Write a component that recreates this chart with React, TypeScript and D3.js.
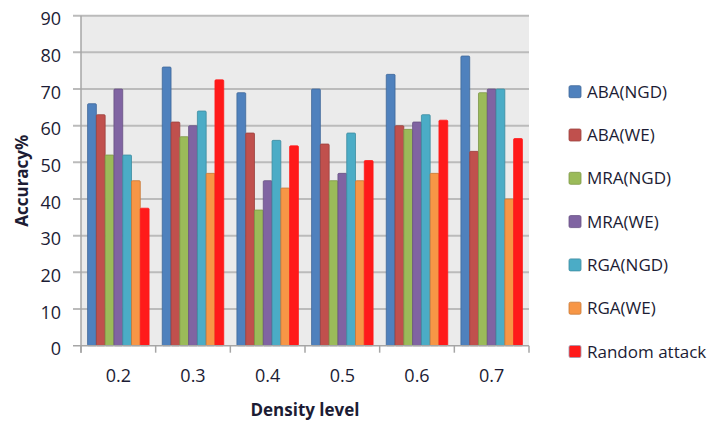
import React from "react";
import * as d3 from "d3";

const categories = ["0.2", "0.3", "0.4", "0.5", "0.6", "0.7"];
const seriesNames = ["ABA(NGD)", "ABA(WE)", "MRA(NGD)", "MRA(WE)", "RGA(NGD)", "RGA(WE)", "Random attack"];
const abaNgd = [66, 76, 69, 70, 74, 79];
const abaWe = [63, 61, 58, 55, 60, 53];
const mraNgd = [52, 57, 37, 45, 59, 69];
const mraWe = [70, 60, 45, 47, 61, 70];
const rgaNgd = [52, 64, 56, 58, 63, 70];
const rgaWe = [45, 47, 43, 45, 47, 40];
const randomAttack = [37.5, 72.5, 54.5, 50.5, 61.5, 56.5];
const seriesColors = ["#4F81BD", "#C0504D", "#9BBB59", "#8064A2", "#4BACC6", "#F79646", "#FF1A1A"];
const yTicks = [0, 10, 20, 30, 40, 50, 60, 70, 80, 90];

const seriesValues = [abaNgd, abaWe, mraNgd, mraWe, rgaNgd, rgaWe, randomAttack];

const W = 718;
const H = 422;
const plot = { left: 81, right: 529, top: 15.7, bottom: 345.7 };
const textColor = "#1c1c34";
const font = "'Open Sans', Lato, sans-serif";

export default function App() {
  const x0 = d3.scaleBand<string>().domain(categories).range([plot.left, plot.right]).paddingInner(0).paddingOuter(0);
  const bw = x0.bandwidth();
  // gap on each side of a group = 0.75 bar width (gap width 150%)
  const barW = bw / (seriesNames.length + 1.5);
  const x1 = d3
    .scaleBand<string>()
    .domain(seriesNames)
    .range([barW * 0.75, bw - barW * 0.75]);
  const y = d3.scaleLinear().domain([0, 90]).range([plot.bottom, plot.top]);

  const boundaries = d3.range(categories.length + 1).map((i) => plot.left + i * bw);

  return (
    <svg width={W} height={H} style={{ position: "absolute", left: 0, top: 0, display: "block", background: "#fff" }}>
      <rect x={plot.left} y={plot.top} width={plot.right - plot.left} height={plot.bottom - plot.top} fill="#EBEBEB" />
      {yTicks.map((t) => (
        <g key={t}>
          {t > 0 && (
            <line x1={plot.left - 8} x2={plot.right} y1={y(t)} y2={y(t)} stroke="#BBBBBB" strokeWidth={2} />
          )}
          <text x={61} y={y(t) + 3} dy="0.36em" textAnchor="end" fontFamily={font} fontSize={18} fill={textColor}>
            {t}
          </text>
        </g>
      ))}
      {/* bars */}
      {categories.map((c, ci) => (
        <g key={c} transform={`translate(${x0(c)},0)`}>
          {seriesNames.map((s, si) => {
            const v = seriesValues[si][ci];
            const col = seriesColors[si];
            return (
              <rect
                key={s}
                x={x1(s)}
                y={y(v)}
                width={x1.bandwidth()}
                height={y(0) - y(v)}
                fill={col}
                stroke={si === 6 ? col : d3.color(col)!.darker(0.6).formatHex()}
                strokeWidth={0.8}
                rx={1}
              />
            );
          })}
        </g>
      ))}
      {/* axes */}
      <line x1={plot.left} x2={plot.left} y1={plot.top} y2={plot.bottom + 7} stroke="#A6A6A6" strokeWidth={1.5} />
      <line x1={plot.left - 8} x2={plot.right} y1={plot.bottom} y2={plot.bottom} stroke="#A6A6A6" strokeWidth={1.5} />
      {boundaries.map((b, i) => (
        <line key={i} x1={b} x2={b} y1={plot.bottom} y2={plot.bottom + 7} stroke="#A6A6A6" strokeWidth={1.5} />
      ))}
      {categories.map((c) => (
        <text
          key={c}
          x={x0(c)! + bw / 2}
          y={376}
          dy="0.36em"
          textAnchor="middle"
          fontFamily={font}
          fontSize={18}
          fill={textColor}
        >
          {c}
        </text>
      ))}
      <text
        x={(plot.left + plot.right) / 2}
        y={410}
        dy="0.36em"
        textAnchor="middle"
        fontFamily={font}
        fontWeight="bold"
        fontSize={17}
        fill={textColor}
      >
        Density level
      </text>
      <text
        transform={`translate(22,${(plot.top + plot.bottom) / 2}) rotate(-90)`}
        dy="0.36em"
        textAnchor="middle"
        fontFamily={font}
        fontWeight="bold"
        fontSize={17}
        fill={textColor}
      >
        Accuracy%
      </text>
      {/* legend */}
      {seriesNames.map((s, si) => {
        const cy = 91.7 + si * 43.3;
        const col = seriesColors[si];
        return (
          <g key={s}>
            <rect
              x={569}
              y={cy - 6}
              width={12}
              height={12}
              rx={1.5}
              fill={col}
              stroke={si === 6 ? "#9a9ab0" : d3.color(col)!.darker(0.6).formatHex()}
              strokeWidth={0.8}
            />
            <text x={587} y={cy} dy="0.36em" fontFamily={font} fontSize={17} fill={textColor}>
              {s}
            </text>
          </g>
        );
      })}
    </svg>
  );
}
